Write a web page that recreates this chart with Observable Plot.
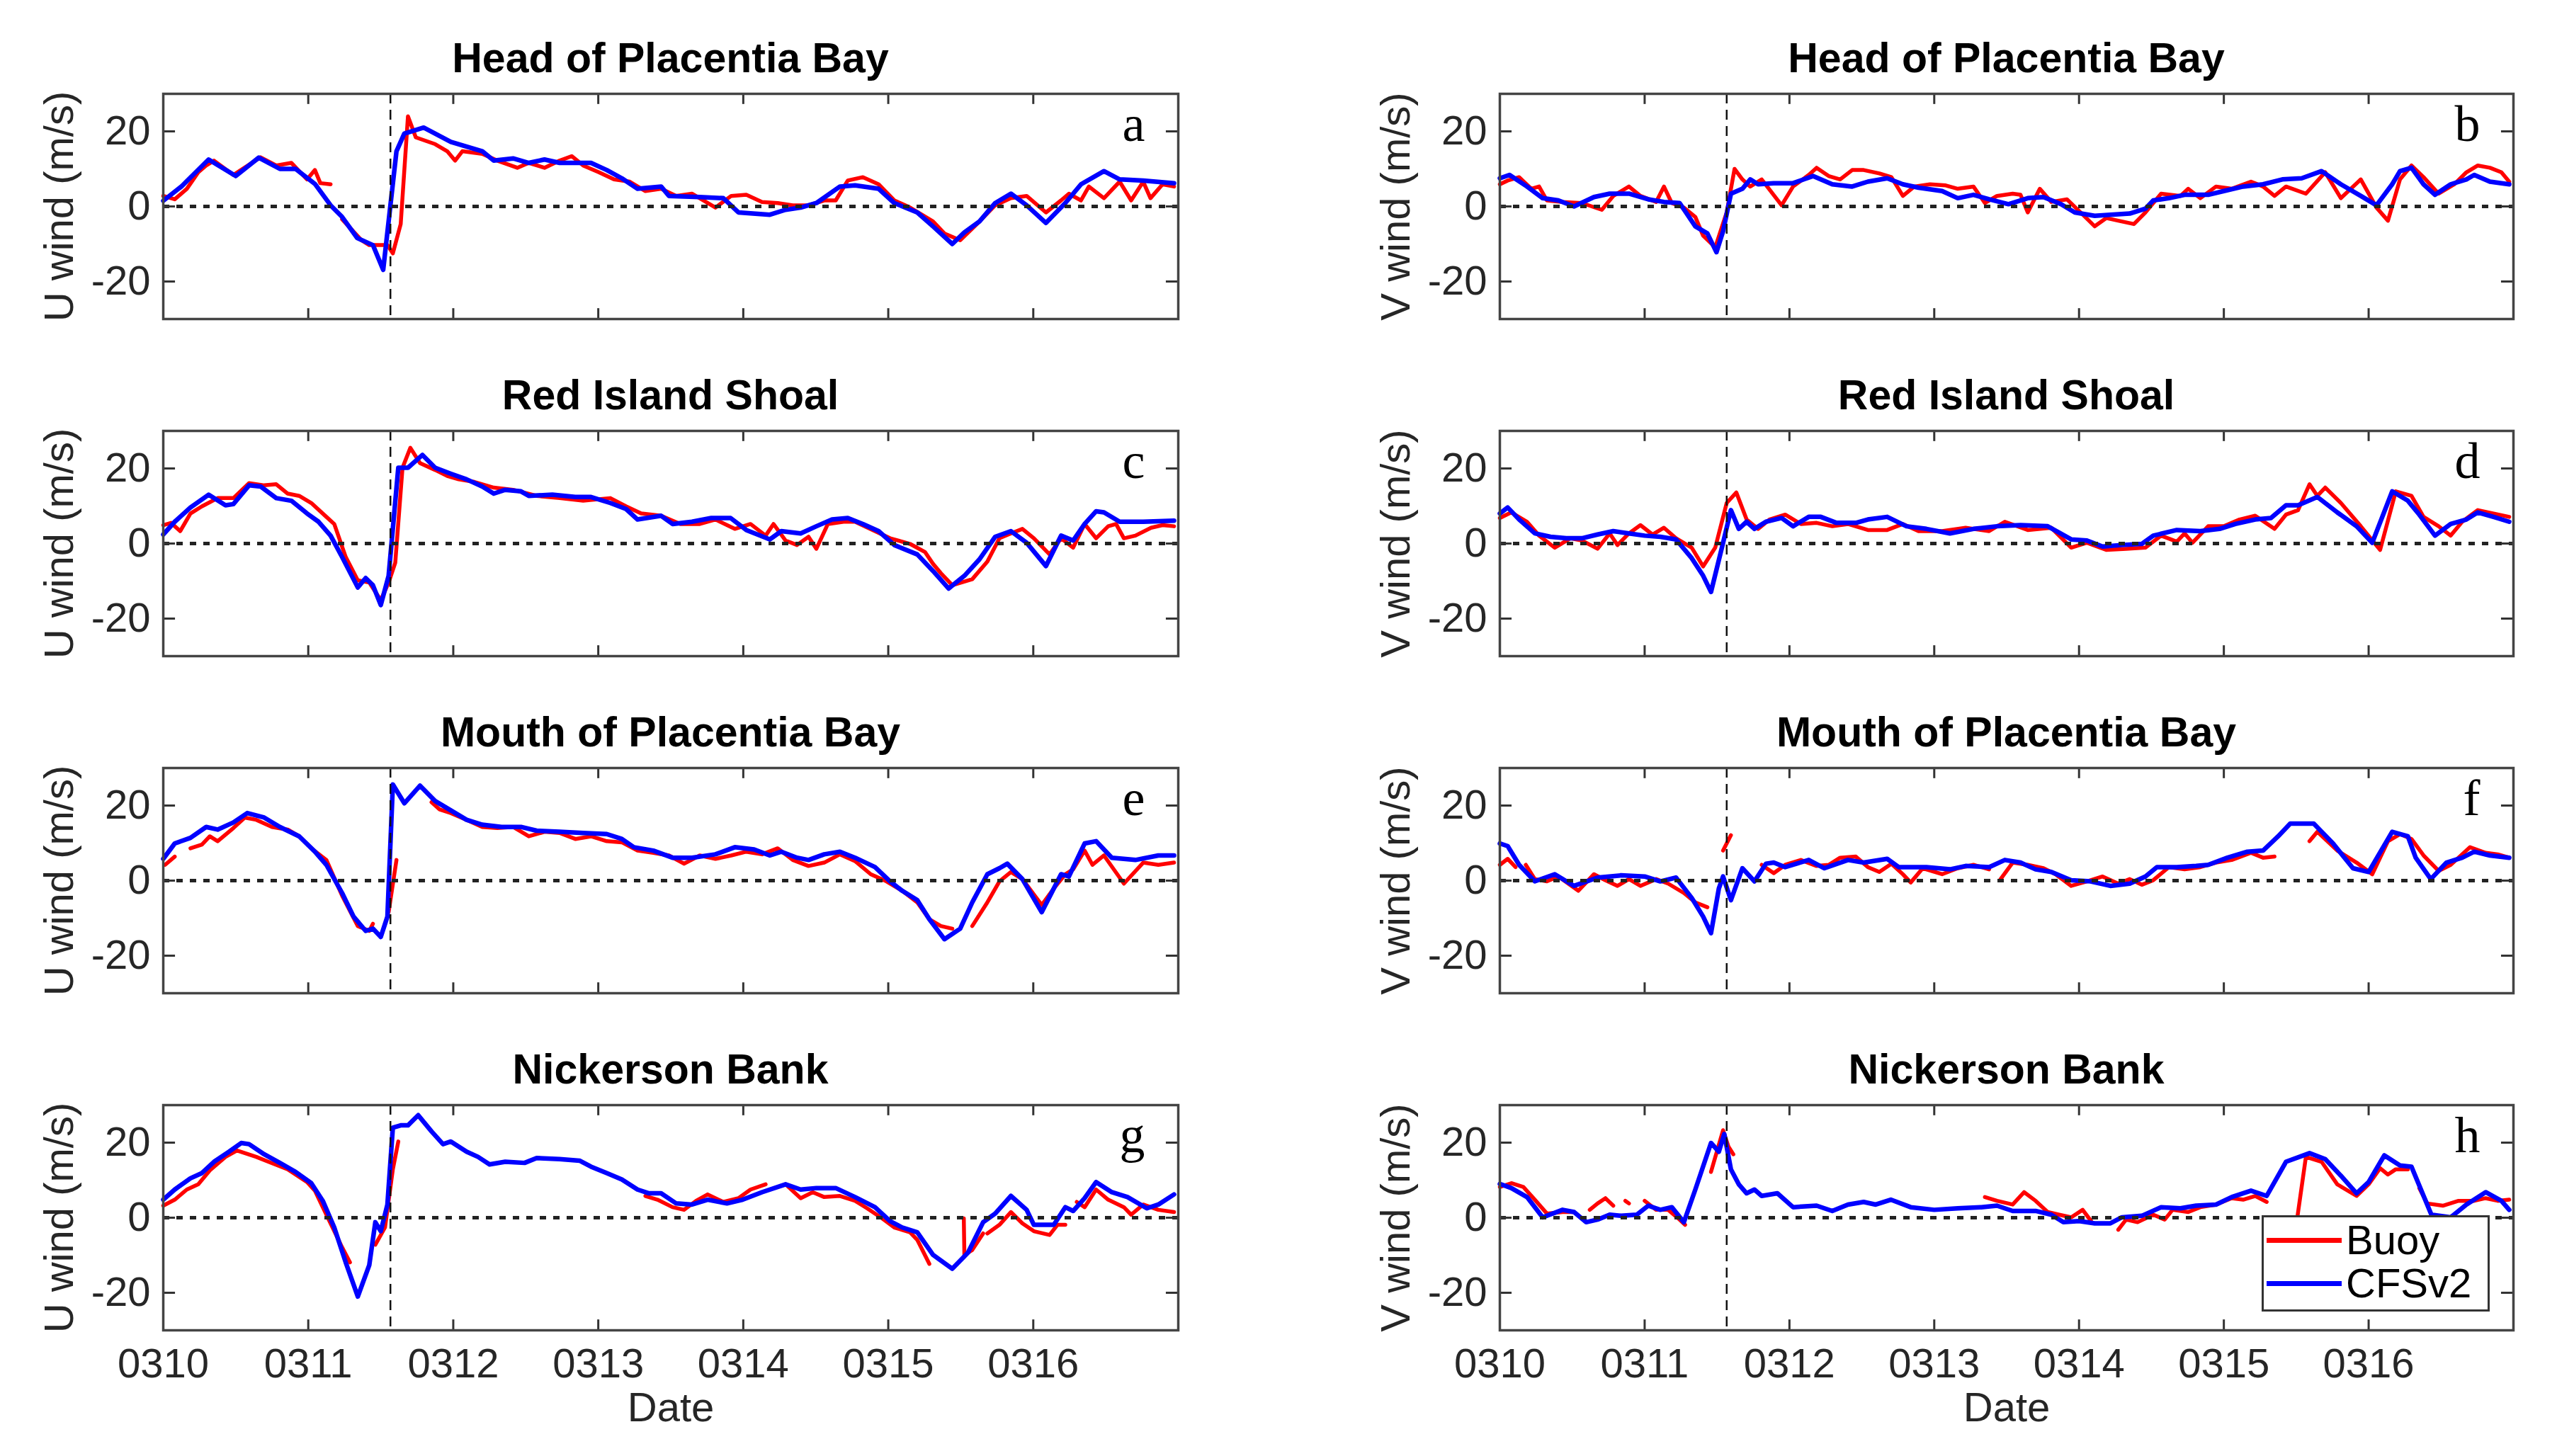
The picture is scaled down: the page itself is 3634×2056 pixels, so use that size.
<!DOCTYPE html>
<html><head><meta charset="utf-8">
<script src="https://cdn.jsdelivr.net/npm/d3@7"></script>
<script src="https://cdn.jsdelivr.net/npm/@observablehq/plot@0.6"></script>
<style>
html,body{margin:0;padding:0;background:#fff;}
#page{position:relative;width:3634px;height:2056px;overflow:hidden;background:#fff;font-family:"Liberation Sans",Arial,sans-serif;}
.panel{position:absolute;}
.title{position:absolute;font-weight:bold;font-size:59px;line-height:59px;text-align:center;color:#000;white-space:nowrap;}
.legend{position:absolute;background:#fff;border:3px solid #333;box-sizing:border-box;}
.lrow{position:absolute;left:0;height:60px;display:flex;align-items:center;font-size:58px;line-height:60px;color:#000;}
.lrow .sw{width:106px;height:7px;margin-left:4px;margin-right:6px;}
</style></head><body><div id="page"></div>
<script>
// ---------- data (hours since 0310 00:00, wind m/s) ----------
const dayLabels = ["0310","0311","0312","0313","0314","0315","0316"];
const dayTicks = [0,24,48,72,96,120,144];
const yTicks = [-20,0,20];
const eventHour = 37.6;
const titles = ["Head of Placentia Bay","Red Island Shoal","Mouth of Placentia Bay","Nickerson Bank"];
const letters = ["a","b","c","d","e","f","g","h"];
const yLabels = ["U wind (m/s)","V wind (m/s)"];
const seriesNames = ["Buoy","CFSv2"];
const seriesColors = ["#ff0000","#0000ff"];

const cfsA = [[0,1.5],[3,5.3],[7.5,12.5],[12,8.1],[15.8,13],[19.3,10],[21.9,10],[25.1,6],[27.7,0.3],[29.6,-2.8],[32.1,-8.4],[34.7,-10.3],[36.4,-16.9],[38.6,14.7],[39.9,19.4],[43.1,21],[47.6,17.2],[52.8,14.7],[54.7,12.2],[57.9,12.8],[60.5,11.6],[63.1,12.5],[65.6,11.6],[70.8,11.6],[73.4,9.7],[75.9,7.5],[78.5,4.7],[82.4,5.3],[83.7,2.8],[88.8,2.5],[92.7,2.2],[95.2,-1.6],[100.4,-2.2],[103,-0.9],[105.5,-0.3],[108.1,0.9],[112,5.3],[114.5,5.6],[118.4,4.7],[121,0.9],[124.8,-1.6],[127.4,-5.3],[130.6,-10],[132.6,-6.9],[135.1,-4],[137.7,0.9],[140.3,3.4],[142.9,0.3],[146.1,-4.4],[149.3,0.9],[151.9,5.9],[155.7,9.4],[158.3,7.2],[162.2,6.9],[167.3,6.2]];
const buoyA = [[0,2.8],[1.9,1.9],[3.9,4.7],[5.8,9.1],[7.1,10.9],[8.4,12.2],[11.6,8.4],[16.1,13.1],[18.7,10.9],[21.2,11.6],[23.8,7.2],[25.1,9.7],[26,6.2],[27.7,5.9],[28.5,null],[29.6,-3.4],[32.8,-9],[34.1,-10.3],[37.1,-10.3],[38,-12.5],[39.3,-4.7],[40.5,24],[41.8,18.4],[45,16.6],[47,14.7],[48.3,12.2],[49.5,14.7],[52.8,14],[55.3,12.2],[58.6,10.3],[60.5,11.6],[63.1,10.3],[65.6,12.2],[67.6,13.4],[69.5,10.9],[72.1,9.1],[74.6,7.2],[77.2,6.6],[79.8,4.1],[82.4,4.7],[84.9,2.8],[87.5,3.4],[91.4,-0.3],[94,2.8],[96.5,3.1],[99.1,1.2],[101.7,0.9],[104.2,0.3],[106.8,0.3],[109.4,1.6],[111.3,1.6],[113.3,6.9],[115.8,7.8],[118.4,5.9],[121,1.6],[123.6,-0.3],[127.4,-4],[129.3,-7.2],[131.9,-9],[135.1,-4],[137.7,0.3],[140.3,2.2],[142.9,2.8],[146.1,-1.6],[148.6,1.6],[149.9,3.4],[151.9,1.6],[153.2,5.3],[155.7,2.2],[158.3,6.6],[160.2,1.6],[162.2,6.6],[163.4,2.2],[165.4,5.9],[167.3,5.3]];

const cfsB = [[0,7.5],[1.6,8.4],[4.5,5.3],[7.1,2.2],[9.7,1.6],[12.3,0],[15.6,2.5],[18.2,3.4],[21.4,3.4],[24.6,1.9],[27.2,1.2],[29.8,0.9],[32.4,-5.3],[34.4,-7.2],[35.9,-12.2],[37,-6.6],[38.3,3.4],[40.2,4.7],[41.5,7.2],[42.8,5.9],[45.4,6.2],[48.6,6.2],[51.9,8.1],[55.1,5.9],[58.4,5.3],[61,6.6],[64.2,7.5],[66.8,5.9],[69.4,5],[73.3,4.1],[75.9,2.2],[78.5,3.1],[81.1,1.9],[84.3,0.6],[87.5,2.2],[90.1,2.5],[93,0.6],[95.3,-1.6],[98.6,-2.5],[101.2,-2.2],[104.4,-1.9],[107,-0.6],[108.3,1.6],[110.9,2.2],[113.5,3.1],[117.4,3.1],[120,4.1],[123.2,5.3],[126.5,5.9],[129.7,7.2],[132.9,7.5],[136.2,9.4],[139.4,5.9],[142.7,2.8],[145.3,0.3],[147.9,5.9],[149.2,9.4],[151.1,10.3],[153.1,5.9],[155,3.1],[157.6,5.9],[160.2,7.2],[161.5,8.4],[164.1,6.6],[167.3,5.9]];
const buoyB = [[0,5.9],[1.3,6.9],[3.2,7.8],[5.2,4.7],[6.5,5.3],[7.8,1.6],[10.4,1.2],[13.6,0.9],[16.9,-0.9],[18.8,2.8],[21.4,5.3],[23.3,2.8],[25.9,1.2],[27.2,5.3],[28.5,0.9],[30.5,-0.3],[32.4,-2.8],[33.7,-7.8],[35.7,-10.9],[37.6,-1.6],[38.9,10],[40.2,7.2],[41.5,5.3],[43.4,7.2],[46.7,0.3],[48.6,5.3],[51.2,8.4],[52.5,10.3],[54.5,8.1],[56.4,7.2],[58.4,9.7],[60.3,9.7],[62.9,8.8],[64.9,7.8],[66.8,2.8],[68.7,5.3],[71.3,5.9],[73.9,5.6],[75.9,4.7],[78.5,5.3],[80.4,0.9],[82.4,2.8],[85,3.4],[86.3,3.1],[87.5,-1.6],[89.5,4.7],[91.4,1.2],[94,1.9],[96,-1.2],[98.6,-5.3],[100.5,-3.1],[102.5,-3.8],[105.1,-4.7],[107,-1.6],[109.6,3.4],[112.8,2.8],[114.1,4.7],[116.1,2.2],[118.7,5.3],[121.3,4.7],[124.5,6.6],[126.5,5.3],[128.4,2.8],[130.3,5.3],[133.6,3.4],[136.8,9.1],[139.4,2.2],[142.7,7.2],[145.3,-0.3],[147.2,-3.8],[149.2,7.2],[151.1,10.9],[153.1,7.8],[155.6,3.4],[158.2,5.9],[160.2,9.1],[162.1,10.9],[164.1,10.3],[166,9.1],[167.3,6.6]];

const cfsC = [[0,2.4],[1.9,5.8],[4.5,9.6],[7.5,13],[10.3,10.2],[11.6,10.5],[14.2,15.5],[16.1,15.2],[18.7,12.1],[21.2,11.4],[23.8,8],[25.7,5.8],[27.7,2.1],[29.6,-3.6],[32.2,-11.7],[33.5,-9.2],[34.7,-11.1],[36,-16.4],[37.3,-8.6],[38.9,20.2],[40.5,20.2],[42.9,23.6],[45,20.2],[47.6,18.6],[50.2,17.1],[52.8,15.2],[54.7,13.3],[56.6,14.3],[59.2,13.9],[60.5,12.7],[64.4,13],[68.2,12.4],[70.8,12.4],[74,10.8],[76.6,9.2],[78.5,6.4],[82.4,7.4],[84.3,5.2],[87.5,5.8],[90.7,6.8],[93.9,6.8],[96.5,3.6],[100.4,1.1],[102.3,3.3],[105.5,2.7],[108.1,4.6],[110.7,6.4],[113.3,6.8],[115.8,5.2],[118.4,3.3],[121,-0.4],[124.8,-2.9],[127.4,-7.3],[130,-12],[132.6,-8.6],[135.1,-4.2],[137.7,1.8],[140.3,3.3],[142.9,0.2],[146.1,-6],[148.6,2.1],[150.6,0.8],[152.5,5.2],[154.4,8.6],[155.7,8.3],[158.3,5.8],[162.2,5.8],[167.3,6.1]];
const buoyC = [[0,4.9],[1.3,5.5],[2.8,3.3],[4.5,8],[6.4,9.9],[9,12.1],[11.6,12.1],[14.2,16.1],[16.7,15.5],[18.7,15.8],[20.6,13.3],[22.5,12.7],[24.5,10.8],[27,7.1],[28.3,5.2],[30.2,-3.6],[32.2,-9.8],[34.1,-10.4],[36,-15.1],[37.3,-10.4],[38.4,-5.1],[39.6,20.2],[40.9,25.5],[42.5,21.4],[45,19.6],[47,18],[48.9,17.1],[51.5,16.4],[54.7,14.9],[57.9,14.3],[61.8,12.7],[65.6,12.1],[69.5,11.4],[74,12.1],[76.6,9.9],[79.1,8],[82.4,7.4],[85.6,5.2],[88.8,5.2],[91.4,6.4],[94.6,3.9],[97.2,5.2],[99.7,2.1],[101,5.2],[103,0.8],[104.9,-0.4],[106.8,1.8],[108.1,-1.4],[110,5.2],[112.6,5.8],[114.5,5.8],[117.8,3.3],[120.3,1.4],[123.6,-0.1],[126.1,-2.3],[127.4,-5.4],[128.7,-7.9],[130.6,-11.1],[133.9,-9.5],[136.4,-4.8],[138.4,1.4],[140.3,2.7],[142.2,3.9],[144.1,1.4],[146.7,-2.9],[148.6,1.4],[150.6,-1.1],[152.5,5.2],[154.4,1.4],[156.4,4.6],[157.7,5.2],[159,1.4],[160.9,2.1],[163.5,4.2],[165.4,4.9],[167.3,4.6]];

const cfsD = [[0,8],[1.3,9.6],[3.2,6.4],[5.8,2.7],[8.4,1.8],[11,1.4],[13.6,1.4],[16.2,2.4],[18.8,3.3],[21.4,2.7],[24,2.1],[26.6,1.8],[29.2,1.1],[31.8,-3.9],[33.7,-8.6],[35,-12.9],[37,0.2],[38.3,8.9],[39.6,3.9],[40.9,5.8],[42.2,3.9],[44.1,5.8],[46.7,6.8],[48.6,4.6],[51.2,7.1],[53.2,7.1],[55.8,5.5],[59,5.5],[61,6.4],[64.2,7.1],[67.4,4.6],[70.7,3.9],[74.6,2.7],[78.5,3.9],[82.4,4.6],[86.3,4.9],[90.8,4.6],[94.7,1.1],[97.3,0.8],[99.9,-0.8],[103.1,-0.4],[106.4,-0.1],[108.3,2.1],[112.2,3.6],[116.1,3.3],[119.3,3.9],[121.9,5.2],[125.2,6.4],[127.8,6.8],[130.3,10.2],[132.3,10.2],[135.5,12.4],[138.8,8.3],[142,4.6],[144.6,0.2],[147.9,13.9],[150.5,11.4],[152.4,7.7],[155,2.1],[157.6,5.2],[160.2,6.4],[162.1,8.3],[164.7,7.1],[167.3,5.8]];
const buoyD = [[0,6.8],[1.9,8.3],[4.5,5.8],[6.5,2.1],[9.1,-1.1],[11.7,1.4],[13.6,0.8],[16.2,-1.4],[18.2,2.7],[19.5,-0.4],[21.4,2.7],[23.3,4.9],[25.3,2.4],[27.2,4.2],[29.2,1.4],[31.8,-1.1],[33.7,-6.1],[35.7,-1.1],[37.6,10.8],[39.2,13.6],[40.9,6.4],[42.8,3.9],[44.7,6.4],[47.3,7.7],[49.9,5.2],[52.5,5.5],[55.1,4.6],[57.7,5.2],[61,3.6],[64.2,3.6],[66.8,5.2],[69.4,3.3],[73.3,3.3],[77.2,4.2],[81.1,3.3],[83.7,5.8],[87.5,3.6],[91.4,4.2],[94.7,-1.1],[97.3,0.2],[100.5,-1.7],[103.8,-1.4],[107,-1.1],[109.6,2.1],[112.2,0.5],[113.5,2.7],[114.8,0.2],[117.4,4.6],[120,4.6],[122.6,6.4],[125.2,7.4],[128.4,3.9],[130.3,7.7],[132.3,8.9],[134.2,15.8],[135.5,12.7],[136.8,14.9],[139.4,10.8],[142.7,4.6],[145.9,-1.7],[148.5,13.9],[151.1,12.7],[153.1,7.1],[155.6,4.6],[157.6,2.1],[159.5,5.8],[162.1,8.9],[164.7,8],[167.3,7.1]];

const cfsE = [[0,5.8],[1.9,9.9],[4.5,11.4],[7.1,14.3],[9,13.6],[11.6,15.5],[13.9,18],[16.7,16.8],[19.3,14.3],[22.5,11.8],[25.1,7.7],[27,4.2],[29.6,-3.3],[31.5,-9.6],[33.5,-13.4],[34.7,-12.8],[36,-15],[37.1,-9.6],[38,25.6],[39.9,20.6],[42.5,25.3],[45,21.2],[47.6,18.7],[50.2,16.2],[52.8,14.9],[56,14.3],[59.2,14.3],[61.8,13.3],[65.6,13],[69.5,12.7],[73.4,12.4],[75.9,11.1],[77.9,8.9],[81.1,8],[84.3,6.1],[87.5,6.1],[91.4,7],[94.6,8.9],[97.8,8.3],[100.4,6.7],[102.3,7.7],[104.9,6.1],[106.8,5.5],[109.4,7],[112,7.7],[114.5,6.1],[117.8,3.6],[120.3,-0.2],[122.3,-2.7],[124.8,-5.2],[126.8,-10.3],[129.3,-15.6],[131.9,-12.8],[133.9,-5.8],[136.4,1.7],[138.4,3.3],[139.7,4.5],[142.2,0.4],[145.4,-8.4],[148.6,1.7],[149.9,1.1],[152.5,9.9],[154.4,10.5],[157,6.1],[160.9,5.5],[164.7,6.7],[167.3,6.7]];
const buoyE = [[0.3,4.2],[1.9,6.4],[3,null],[4.5,8.6],[6.4,9.6],[7.7,11.8],[9,10.5],[11.6,14],[13.5,16.8],[15.4,16.2],[18,14.3],[20.6,13.6],[22.5,11.8],[24.5,8.6],[27,5.5],[29.6,-4],[32.2,-12.1],[34.1,-13.4],[34.7,-11.5],[36,null],[37.3,-8.4],[38.6,5.5],[40,null],[44.4,20.9],[45.7,19],[47.6,18],[50.2,16.2],[52.8,14.3],[55.3,14],[57.9,14.3],[60.5,11.8],[63.1,13],[65.6,12.7],[68.2,11.1],[70.8,11.8],[73.4,10.5],[75.9,10.2],[78.5,8],[81.1,7.4],[83.7,6.7],[86.2,4.5],[88.8,6.7],[91.4,5.8],[94,6.7],[96.5,7.7],[99.1,7],[101.7,8.6],[104.2,5.5],[106.8,3.9],[109.4,4.8],[112,7],[114.5,5.2],[117.1,1.7],[119.7,-0.2],[122.3,-2.7],[124.8,-5.8],[126.8,-10.3],[128.7,-12.1],[130.6,-12.8],[131.5,null],[133.9,-12.1],[136.4,-5.8],[138.4,-0.2],[140.3,2.3],[142.2,0.4],[145.4,-6.5],[147.4,-2.1],[149.3,1.7],[150.6,3],[152.5,8],[153.8,4.2],[155.7,6.7],[159,-0.8],[162.2,4.8],[164.7,4.2],[167.3,4.8]];

const cfsF = [[0,9.9],[1.3,9.2],[3.2,4.2],[5.8,-0.2],[9.1,1.7],[12.3,-1.4],[16.2,0.8],[20.1,1.4],[24,1.1],[26.6,-0.2],[29.2,0.8],[31.8,-4.6],[33.7,-9.6],[35,-14],[36.3,-2.1],[37,1.1],[38.3,-5.2],[40.2,3.3],[42.2,-0.2],[44.1,4.5],[45.4,4.8],[47.3,3.6],[51.2,5.5],[53.8,3.3],[57.7,5.5],[60.3,4.8],[64.2,5.8],[66.1,3.6],[70.7,3.6],[74.6,3],[77.2,3.9],[81.1,3.6],[83.7,5.5],[86.3,4.8],[88.8,3],[91.4,2.3],[94.7,0.1],[97.9,-0.2],[101.2,-1.4],[104.4,-0.8],[107,1.1],[108.9,3.6],[112.2,3.6],[115.4,3.9],[117.4,4.2],[120.6,6.1],[123.9,7.7],[126.5,8],[129,11.8],[131,15.2],[134.9,15.2],[138.1,9.9],[141.4,3.3],[144,2.3],[147.9,13],[150.5,11.8],[151.8,6.1],[154.3,0.4],[156.9,4.8],[159.5,6.1],[161.5,7.7],[164.1,6.7],[167.3,6.1]];
const buoyF = [[0,4.2],[1.3,5.8],[2.6,3.6],[3.3,null],[4.3,4.2],[5.8,0.4],[7.8,-0.2],[9.7,1.1],[13,-2.7],[15.6,1.7],[17.5,0.1],[19.5,-1.4],[21.4,0.4],[23.3,-1.4],[25.9,0.4],[27.9,-0.8],[30.5,-3.3],[32.4,-5.8],[34.4,-7.1],[36,null],[37,8],[38.3,12.1],[39.5,null],[43.4,4.2],[45.4,2],[47.3,4.2],[49.9,5.5],[52.5,3.9],[54.5,4.2],[56.4,6.1],[59,6.4],[61,3.6],[62.9,2.3],[64.9,4.5],[66.8,1.7],[68.1,-0.5],[70.1,3.3],[73.3,1.7],[75.9,3.3],[78.5,4.2],[81.1,3],[82,null],[83,0.4],[85,4.8],[87.5,4.2],[90.1,3.3],[92.1,1.7],[94.7,-1.4],[97.3,-0.2],[99.9,1.1],[102.5,-0.8],[104.4,0.4],[106.4,-1.1],[108.3,0.1],[110.9,3.6],[113.5,3],[116.1,3.6],[118.7,4.8],[121.3,5.5],[124.5,7.4],[126.5,6.1],[128.4,6.4],[129.5,null],[134.2,10.5],[135.5,13],[138.8,8],[142,4.8],[144.6,1.7],[147.2,10.5],[149.2,12.4],[151.1,11.1],[153.1,6.7],[155.6,2.6],[157.6,4.2],[160.8,8.9],[163.4,7.4],[165.4,7],[167.3,6.1]];

const cfsG = [[0,4.8],[1.9,7.5],[4.5,10.5],[6.4,11.9],[8.4,14.9],[10.9,17.6],[12.9,19.9],[14.2,19.6],[16.7,16.9],[19.3,14.6],[21.9,12.2],[24.5,9.2],[26.4,4.5],[28.3,-2.6],[30.2,-11.9],[32.2,-21],[34.1,-12.6],[35.1,-1.2],[36,-3.6],[37.1,3.5],[38,24],[39.3,24.6],[40.5,24.6],[42.2,27.3],[44.4,23],[46.3,19.6],[47.6,20.3],[50.2,17.6],[52.1,16.2],[54,14.2],[56.6,14.9],[59.8,14.6],[61.8,15.9],[65.6,15.6],[68.9,15.2],[70.8,13.6],[73.4,11.9],[75.9,10.2],[78.5,7.5],[80.4,6.5],[82.4,6.5],[84.9,3.8],[87.5,3.5],[90.1,4.8],[93.3,3.8],[95.9,4.8],[99.1,6.8],[103,8.9],[105.5,7.5],[108.1,7.9],[111.3,7.9],[114.5,5.5],[117.8,2.8],[120.3,-0.9],[122.3,-2.6],[124.8,-3.9],[127.4,-9.9],[130.6,-13.6],[133.2,-9.3],[135.7,-1.2],[137.7,1.1],[140.3,5.8],[142.9,2.1],[144.1,-1.9],[147.4,-1.9],[149.3,2.8],[150.6,1.8],[152.5,5.2],[154.4,9.5],[157,6.8],[159.6,5.5],[162.8,2.5],[164.7,3.5],[167.3,6.2]];
const buoyG = [[0,3.2],[1.9,4.8],[3.9,7.5],[5.8,8.9],[7.7,12.6],[10.3,16.2],[12.2,17.9],[15.4,16.2],[17.4,14.9],[20.6,12.9],[23.8,9.5],[25.1,7.2],[27,0.8],[29.6,-7.9],[30.9,-11.9],[31.5,null],[35.1,-7.2],[36.7,-2.6],[38,12.9],[38.9,20.3],[39.5,null],[79.8,5.8],[81.8,4.8],[84.3,2.8],[86.2,2.1],[88.2,4.5],[90.1,6.2],[92.7,4.2],[95.2,5.2],[97.2,7.5],[99.7,8.9],[100.5,null],[103,8.9],[105.5,5.2],[107.5,6.8],[109.4,5.5],[112,5.8],[114.5,4.5],[116.5,2.5],[119,-0.2],[121,-2.6],[123.6,-3.9],[124.8,-5.9],[126.8,-12.3],[127.5,null],[132.5,-0.2],[132.6,-9.9],[133.9,-8.6],[135.7,-4.2],[136,null],[136.4,-4.2],[138.4,-1.9],[140.3,1.5],[142.2,-1.5],[144.1,-3.6],[146.7,-4.6],[148,-1.9],[149.3,-1.9],[150,null],[151.2,4.2],[152.5,2.8],[154.4,7.5],[156.4,4.8],[159,2.8],[160.2,0.8],[162.2,3.5],[164.7,2.1],[167.3,1.5]];

const cfsH = [[0,9],[1.9,7.9],[4.5,5.5],[7.1,0.1],[10.4,2.1],[12.3,1.5],[14.3,-1.2],[16.2,-0.5],[18.2,0.8],[20.1,0.5],[22.7,0.8],[24.6,3.2],[26.6,2.1],[28.5,2.8],[30.5,-1.2],[32.4,7.5],[35,19.9],[36.3,17.6],[37.2,22.3],[38.3,12.9],[39.6,8.9],[40.9,6.5],[42.2,7.5],[43.4,5.8],[46,6.5],[48.6,2.8],[52.5,3.2],[55.1,1.8],[57.7,3.5],[60.3,4.2],[62.3,3.5],[64.8,4.8],[68.1,2.8],[72,2.1],[75.9,2.5],[79.8,2.8],[82.4,3.2],[85,1.8],[88.8,1.8],[91.4,0.8],[93.4,-1.2],[96,-0.9],[98.6,-1.5],[101.2,-1.5],[103.1,0.1],[106.4,0.5],[109.6,2.8],[112.8,2.5],[115.4,3.2],[118.7,3.5],[121.3,5.5],[124.5,7.2],[127.1,5.8],[130.3,14.9],[134.2,17.2],[136.8,15.6],[139.4,11.2],[142,6.5],[144,9.5],[146.6,16.6],[149.2,13.9],[151.1,13.6],[154.4,0.8],[157.6,0.1],[160.2,3.5],[163.4,6.8],[166,4.5],[167.3,2.1]];
const buoyH = [[0,8.2],[1.9,9.2],[3.9,8.2],[5.8,4.8],[7.8,1.1],[10.4,1.5],[12.3,1.5],[13,null],[14.9,2.1],[16.2,3.8],[17.5,5.2],[18.8,3.2],[19.5,null],[20.8,4.5],[21.4,3.8],[22,null],[24,4.5],[25.9,2.1],[27.9,2.1],[29.8,-0.5],[30.7,-1.9],[32,null],[35,12.2],[37,23.3],[37.9,18.9],[38.7,16.9],[39.5,null],[80.4,5.5],[82.4,4.5],[85,3.5],[86.9,6.8],[88.8,4.5],[90.8,1.5],[92.7,0.8],[94.7,0.1],[96.6,2.1],[98,-0.9],[99,null],[102.5,-3.2],[103.8,-0.5],[105.7,-1.2],[108.3,0.8],[110.2,-0.5],[111.5,2.1],[114.1,1.5],[116.1,2.8],[118.7,3.5],[121.3,5.2],[123.2,4.8],[125.2,5.8],[127.1,4.2],[128,null],[132,-2],[133.6,16.2],[136.2,14.9],[138.8,8.9],[142,5.8],[144,8.9],[145.9,13.2],[147.2,11.5],[148.5,12.9],[150.5,12.9],[151.5,null],[152.4,7.9],[153.7,3.8],[156.3,3.2],[158.9,4.5],[161.5,4.5],[163.4,5.2],[165.4,4.5],[167.3,4.8]];

const buoySeries = [buoyA,buoyB,buoyC,buoyD,buoyE,buoyF,buoyG,buoyH];
const cfsSeries  = [cfsA,cfsB,cfsC,cfsD,cfsE,cfsF,cfsG,cfsH];

// ---------- layout ----------
const colLeft = [230, 2117], colWidth = [1433, 1431];
const rowTop = [132, 608, 1084, 1560], frameH = 318;
const ML = 200, MR = 20, MT = 10;
const page = document.getElementById("page");
const px = d => d[0], py = d => d[1];

for (let p = 0; p < 8; p++) {
  const row = Math.floor(p / 2), col = p % 2;
  const bottom = row === 3;
  const MB = bottom ? 150 : 10;
  const W = ML + colWidth[col] + MR, H = MT + frameH + MB;
  const marks = [
    Plot.line(buoySeries[p], {x: px, y: py, stroke: seriesColors[0], strokeWidth: 5.5, strokeLinejoin: "round"}),
    Plot.line(cfsSeries[p], {x: px, y: py, stroke: seriesColors[1], strokeWidth: 6.5, strokeLinejoin: "round"}),
    Plot.ruleY([0], {stroke: "#222", strokeWidth: 5, strokeDasharray: "9,10"}),
    Plot.ruleX([eventHour], {stroke: "#111", strokeWidth: 2.5, strokeDasharray: "14,9"}),
    Plot.ruleX(dayTicks.slice(1), {y1: -30, y2: -27.2, stroke: "#333", strokeWidth: 3}),
    Plot.ruleX(dayTicks.slice(1), {y1: 30, y2: 27.2, stroke: "#333", strokeWidth: 3}),
    Plot.ruleY(yTicks, {x1: 0, x2: 2, stroke: "#333", strokeWidth: 3}),
    Plot.ruleY(yTicks, {x1: 168, x2: 166, stroke: "#333", strokeWidth: 3}),
    Plot.frame({stroke: "#444", strokeWidth: 3.5}),
    Plot.axisY(yTicks, {tickSize: 0, tickPadding: 18, tickFormat: d => String(d), label: yLabels[col], labelAnchor: "center", labelOffset: 169, labelArrow: false}),
    Plot.text([letters[p]], {frameAnchor: "top-right", textAnchor: "end", lineAnchor: "bottom", dx: -47, dy: 66, fontFamily: "Liberation Serif, Times New Roman, serif", fontSize: 72, fill: "#000"})
  ];
  if (bottom) {
    marks.push(Plot.axisX(dayTicks, {tickSize: 0, tickPadding: 25, tickFormat: d => dayLabels[d / 24], label: "Date", labelAnchor: "center", labelOffset: 128, labelArrow: false}));
  }
  const svg = Plot.plot({
    width: W, height: H,
    marginLeft: ML, marginRight: MR, marginTop: MT, marginBottom: MB,
    style: {fontFamily: "Liberation Sans, Arial, sans-serif", fontSize: "58px", color: "#262626", background: "transparent", overflow: "visible"},
    x: {domain: [0, 168], axis: bottom ? undefined : null},
    y: {domain: [-30, 30]},
    marks
  });
  const holder = document.createElement("div");
  holder.className = "panel";
  holder.style.left = (colLeft[col] - ML) + "px";
  holder.style.top = (rowTop[row] - MT) + "px";
  holder.appendChild(svg);
  page.appendChild(holder);

  const t = document.createElement("div");
  t.className = "title";
  t.textContent = titles[row];
  t.style.left = colLeft[col] + "px";
  t.style.width = colWidth[col] + "px";
  t.style.top = (rowTop[row] - 29 - 50) + "px";
  page.appendChild(t);
}

// legend inside panel h
const leg = document.createElement("div");
leg.className = "legend";
leg.style.left = "3193px"; leg.style.top = "1716px";
leg.style.width = "322px"; leg.style.height = "136px";
[35, 96].forEach((cy, i) => {
  const r = document.createElement("div");
  r.className = "lrow";
  r.style.top = (cy - 3 - 30) + "px";
  const sw = document.createElement("div");
  sw.className = "sw"; sw.style.background = seriesColors[i];
  const tx = document.createElement("span");
  tx.textContent = seriesNames[i];
  r.appendChild(sw); r.appendChild(tx);
  leg.appendChild(r);
});
page.appendChild(leg);
</script>
</body></html>
